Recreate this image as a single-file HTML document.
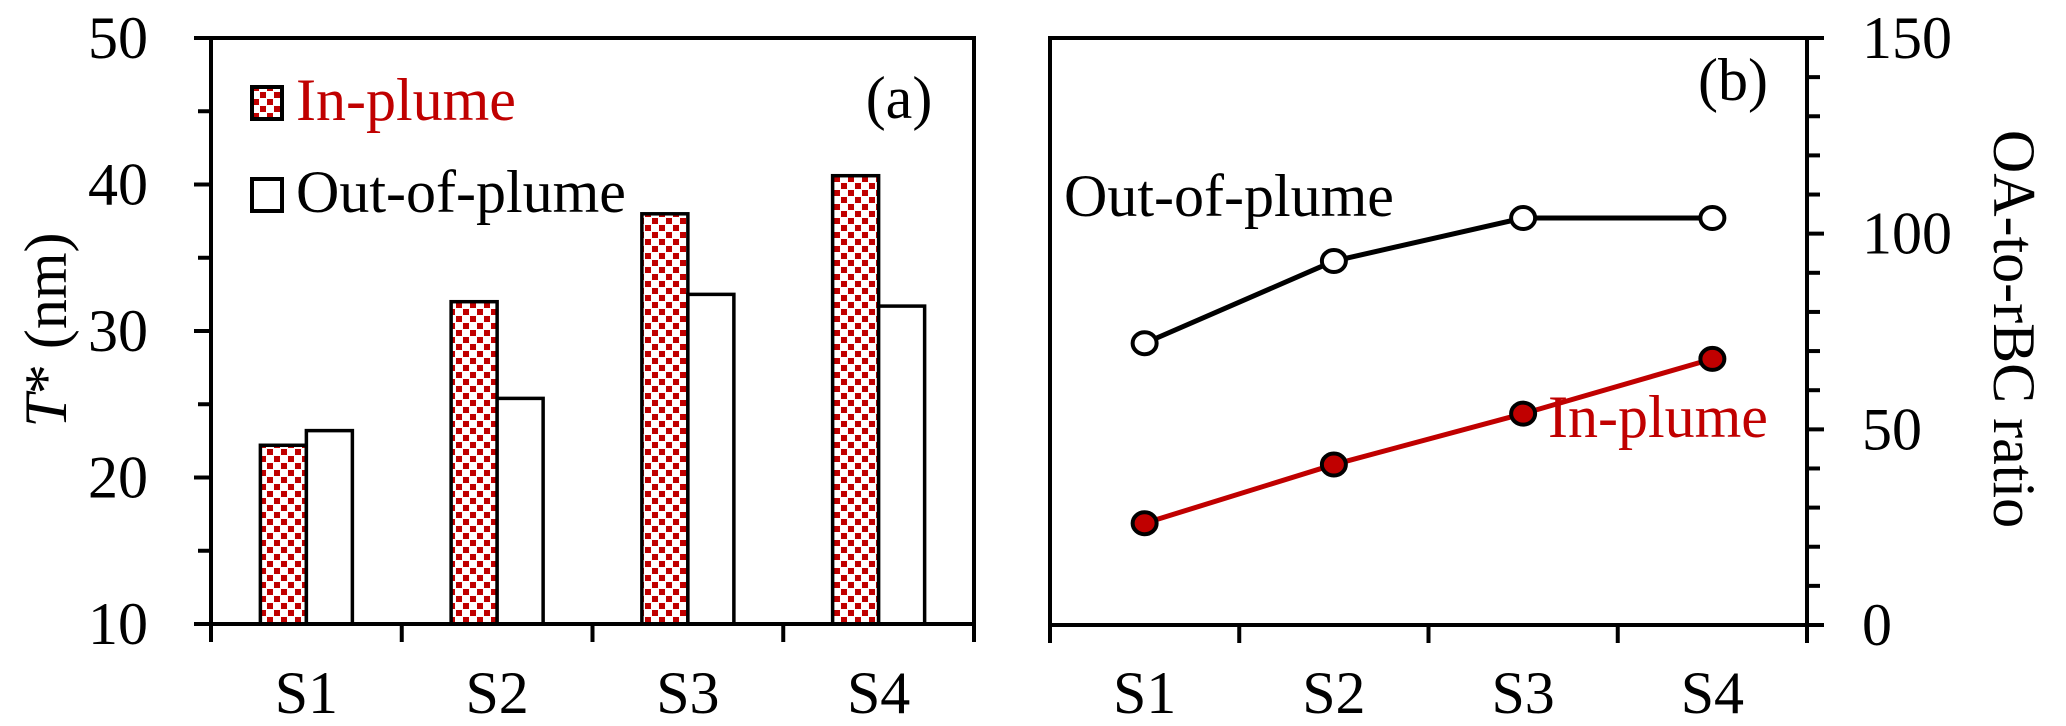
<!DOCTYPE html>
<html><head><meta charset="utf-8"><style>
html,body{margin:0;padding:0;background:#fff;}
svg{display:block;font-family:"Liberation Serif",serif;}
</style></head><body>
<svg id="chart" width="2066" height="726" viewBox="0 0 2066 726" xmlns="http://www.w3.org/2000/svg">
<defs>
<pattern id="dots" patternUnits="userSpaceOnUse" width="14" height="14">
<rect width="14" height="14" fill="#fff"/>
<rect x="1" y="1" width="6" height="6" fill="#c00000"/>
<rect x="8" y="8" width="6" height="6" fill="#c00000"/>
</pattern>
</defs>
<g id="panelA"></g>
<g id="panelB"></g>
</svg>
<script>
const categories = ["S1","S2","S3","S4"];
const inPlumeT = [22.2, 32.0, 38.0, 40.6];
const outPlumeT = [23.2, 25.4, 32.5, 31.7];
const yTicksA = [10,20,30,40,50];
const inPlumeRatio = [26, 41, 54, 68];
const outPlumeRatio = [72, 93, 104, 104];
const yTicksB = [0,50,100,150];

const NS = "http://www.w3.org/2000/svg";
const FS = 60;
function mk(tag, attrs, parent, txt){
  const e = document.createElementNS(NS, tag);
  for (const k in attrs) e.setAttribute(k, attrs[k]);
  if (txt !== undefined) e.textContent = txt;
  parent.appendChild(e);
  return e;
}
const A = document.getElementById('panelA');
const B = document.getElementById('panelB');

// Panel A
const aL=211, aR=974, aT=38, aB=624, aMin=10, aMax=50;
const yA = v => aB - (v-aMin)/(aMax-aMin)*(aB-aT);
const catWA = (aR-aL)/categories.length;
const xA = i => aL + catWA*(i+0.5);
let e;
for (let v=aMin; v<=aMax; v+=5){
  const t = mk('line',{x1:aL-(v%10===0?17:13),x2:aL,y1:yA(v),y2:yA(v),stroke:'#000','stroke-width':4},A);
  
  
}
yTicksA.forEach(v=>{
  const t = mk('text',{x:148,y:yA(v)+20,'text-anchor':'end','font-size':FS,fill:'#000'},A,String(v));
  
  
});
for (let i=0;i<=categories.length;i++){
  const x = aL+catWA*i;
  const t = mk('line',{x1:x,x2:x,y1:aB,y2:aB+18,stroke:'#000','stroke-width':4},A);
  
  
}
const bw = 46;
categories.forEach((c,i)=>{
  const cx = xA(i);
  const r1 = mk('rect',{x:cx-bw,y:yA(inPlumeT[i]),width:bw,height:aB-yA(inPlumeT[i]),fill:'url(#dots)',stroke:'#000','stroke-width':3.5},A);
  
  
  const r2 = mk('rect',{x:cx,y:yA(outPlumeT[i]),width:bw,height:aB-yA(outPlumeT[i]),fill:'#fff',stroke:'#000','stroke-width':3.5},A);
  
  
  const l = mk('text',{x:cx,y:713,'text-anchor':'middle','font-size':FS},A,c);
  
  
});
e = mk('rect',{x:aL,y:aT,width:aR-aL,height:aB-aT,fill:'none',stroke:'#000','stroke-width':4},A);


e = mk('text',{transform:'translate(66,330) rotate(-90)','text-anchor':'middle','font-size':FS},A);


mk('tspan',{'font-style':'italic'},e,'T');
mk('tspan',{},e,'* (nm)');
e = mk('rect',{x:252,y:87,width:30,height:32,fill:'url(#dots)',stroke:'#000','stroke-width':4},A);


e = mk('text',{x:296,y:120,'font-size':FS,fill:'#c00000'},A,'In-plume');


e = mk('rect',{x:252,y:179,width:30,height:32,fill:'#fff',stroke:'#000','stroke-width':4},A);


e = mk('text',{x:296,y:212,'font-size':FS,fill:'#000'},A,'Out-of-plume');


e = mk('text',{x:899,y:118,'text-anchor':'middle','font-size':FS},A,'(a)');



// Panel B
const bL=1050, bR=1807, bT=38, bB=625, bMin=0, bMax=150;
const yB = v => bB - (v-bMin)/(bMax-bMin)*(bB-bT);
const catWB = (bR-bL)/categories.length;
const xB = i => bL + catWB*(i+0.5);
e = mk('rect',{x:bL,y:bT,width:bR-bL,height:bB-bT,fill:'none',stroke:'#000','stroke-width':4},B);


for (let v=bMin; v<=bMax; v+=10){
  const t = mk('line',{x1:bR,x2:bR+(v%50===0?17:13),y1:yB(v),y2:yB(v),stroke:'#000','stroke-width':4},B);
  
  
}
e = mk('line',{x1:bR,x2:bR,y1:bB,y2:bB+12,stroke:'#000','stroke-width':4},B);


yTicksB.forEach(v=>{
  const t = mk('text',{x:1862,y:yB(v)+20,'font-size':FS},B,String(v));
  
  
});
for (let i=0;i<=categories.length;i++){
  const x = bL+catWB*i;
  const t = mk('line',{x1:x,x2:x,y1:bB,y2:bB+18,stroke:'#000','stroke-width':4},B);
  
  
}
categories.forEach((c,i)=>{
  const l = mk('text',{x:xB(i),y:713,'text-anchor':'middle','font-size':FS},B,c);
  
  
});
function series(vals, color, fill, name){
  const pts = vals.map((v,i)=>xB(i)+','+yB(v)).join(' ');
  const pl = mk('polyline',{points:pts,fill:'none',stroke:color,'stroke-width':5},B);
  
  
  vals.forEach((v,i)=>{
    const c = mk('ellipse',{cx:xB(i),cy:yB(v),rx:12,ry:11,fill:fill,stroke:'#000','stroke-width':4},B);
    
    
  });
}
series(outPlumeRatio,'#000','#fff','out-of-plume');
series(inPlumeRatio,'#c00000','#c00000','in-plume');
e = mk('text',{x:1064,y:216,'font-size':FS},B,'Out-of-plume');


e = mk('text',{x:1548,y:437,'font-size':FS,fill:'#c00000'},B,'In-plume');


e = mk('text',{x:1733,y:100,'text-anchor':'middle','font-size':FS},B,'(b)');


e = mk('text',{transform:'translate(1994,329) rotate(90)','text-anchor':'middle','font-size':FS},B,'OA-to-rBC ratio');


</script>
</body></html>
